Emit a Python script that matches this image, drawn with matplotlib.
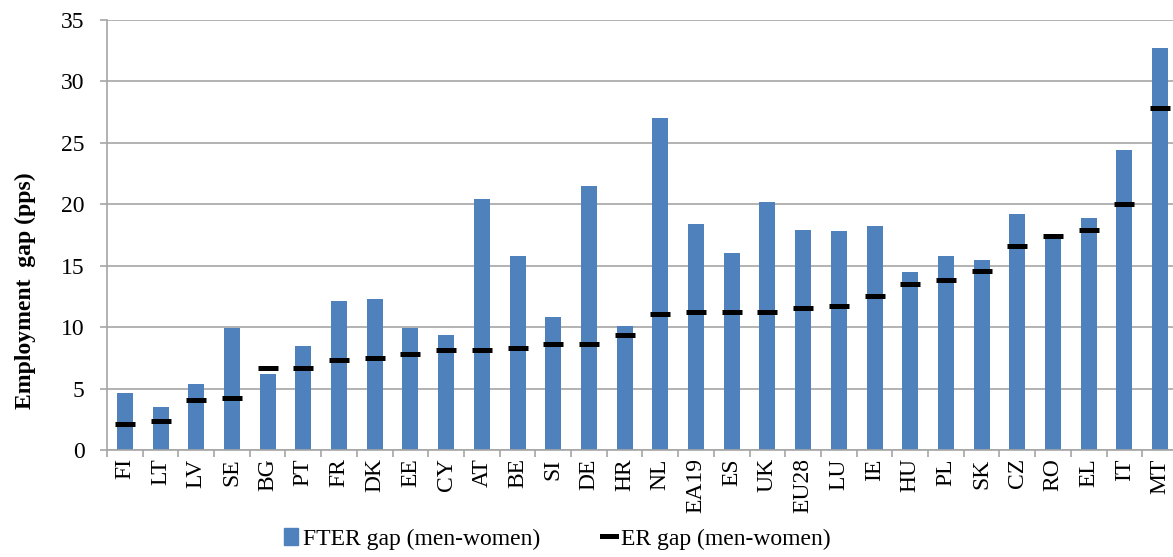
import numpy as np
import matplotlib.pyplot as plt
from matplotlib.lines import Line2D
from matplotlib.patches import Patch

countries = ["FI", "LT", "LV", "SE", "BG", "PT", "FR", "DK", "EE", "CY",
             "AT", "BE", "SI", "DE", "HR", "NL", "EA19", "ES", "UK", "EU28",
             "LU", "IE", "HU", "PL", "SK", "CZ", "RO", "EL", "IT", "MT"]
fter_gap = [4.6, 3.5, 5.4, 9.9, 6.2, 8.5, 12.1, 12.3, 9.9, 9.35,
            20.4, 15.8, 10.8, 21.5, 10.1, 27.0, 18.4, 16.0, 20.2, 17.9,
            17.8, 18.2, 14.5, 15.8, 15.5, 19.2, 17.3, 18.9, 24.4, 32.7]
er_gap = [2.1, 2.4, 4.1, 4.2, 6.7, 6.7, 7.3, 7.5, 7.8, 8.1,
          8.1, 8.3, 8.6, 8.6, 9.4, 11.1, 11.2, 11.2, 11.2, 11.55,
          11.7, 12.5, 13.5, 13.8, 14.6, 16.6, 17.4, 17.9, 20.0, 27.8]

plt.rcParams["font.family"] = ["Liberation Serif", "DejaVu Serif"]

bar_color = "#4F81BD"
grid_color = "#A6A6A6"

fig = plt.figure(figsize=(11.73, 5.57), dpi=100)
ax = fig.add_axes([107 / 1173, 107 / 557, (1178 - 107) / 1173, 430 / 557])

x = np.arange(len(countries))
ax.bar(x, fter_gap, width=0.45, color=bar_color, zorder=2)
ax.plot(x, er_gap, linestyle="none", marker="_", markersize=15,
        markeredgewidth=3.6, color="black", zorder=3)

ax.set_xlim(-0.5, len(countries) - 0.5)
ax.set_ylim(0, 35)
ax.set_yticks(np.arange(0, 36, 5))
ax.yaxis.grid(True, color=grid_color, linewidth=1.2, zorder=0)
ax.set_axisbelow(True)

ax.set_xticks(x)
ax.set_xticklabels(countries, rotation=90, fontsize=17)
ax.set_xticks(np.arange(-0.5, len(countries), 1), minor=True)
ax.tick_params(axis="x", which="major", length=0, pad=6)
ax.tick_params(axis="x", which="minor", length=5, color=grid_color, width=1.2)
ax.tick_params(axis="y", length=5, color=grid_color, width=1.2, labelsize=17, pad=11)

for side in ["top", "right"]:
    ax.spines[side].set_visible(False)
for side in ["left", "bottom"]:
    ax.spines[side].set_color(grid_color)
    ax.spines[side].set_linewidth(1.2)

ax.set_ylabel("Employment  gap (pps)", fontsize=17, fontweight="bold")
ax.yaxis.set_label_coords(-0.066, 0.37)

handles = [Patch(color=bar_color),
           Line2D([], [], color="black", linewidth=3.6)]
labels = ["FTER gap (men-women)", "ER gap (men-women)"]
fig.legend(handles, labels, loc="lower center", bbox_to_anchor=(0.475, -0.025),
           ncol=2, frameon=False, fontsize=17, handlelength=0.6,
           handletextpad=0.2, columnspacing=2.6)

fig.savefig("out.png", dpi=100)
